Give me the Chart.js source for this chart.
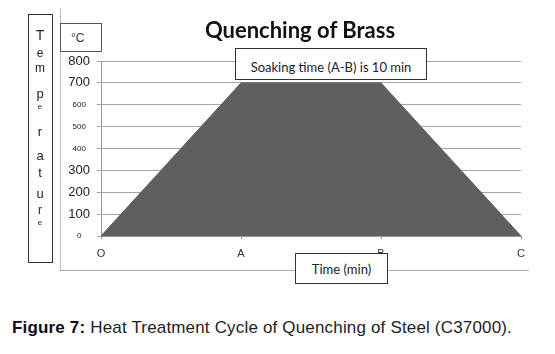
<!DOCTYPE html>
<html>
<head>
<meta charset="utf-8">
<script src="https://cdn.jsdelivr.net/npm/chart.js@4.4.0/dist/chart.umd.min.js"></script>
<style>
  body { margin: 0; background: #fff; width: 555px; height: 354px; position: relative; overflow: hidden; font-family: "Liberation Sans", Arial, sans-serif; }
  #wrap { position: absolute; left: 0; top: 0; width: 555px; height: 290px; }
  .box { position: absolute; background: #fff; border: 1px solid #333; box-sizing: border-box; }
  .lbl { position: absolute; white-space: nowrap; }
  .frameL { position: absolute; left: 60px; top: 8px; width: 1px; height: 262px; background: #bbb; }
  .frameB { position: absolute; left: 60px; top: 270px; width: 469px; height: 1px; background: #aaa; }
  .letter { position: absolute; left: 28px; width: 24px; text-align: center; color: #222; line-height: 1; transform: translateY(-50%); }
</style>
</head>
<body>
<div class="frameL"></div>
<div class="frameB"></div>
<div id="wrap"><canvas id="quench" width="555" height="290"></canvas></div>

<div class="lbl" style="left:0;width:600px;top:16px;text-align:center;font-family:Lato,sans-serif;font-weight:bold;font-size:22px;color:#111;">Quenching of Brass</div>

<div class="box" style="left:235px;top:48px;width:192px;height:32px;"></div>
<div class="lbl" style="left:235px;width:192px;top:59px;text-align:center;font-family:Lato,sans-serif;font-size:13px;color:#222;">Soaking time (A-B) is 10 min</div>

<div class="box" style="left:295px;top:253px;width:93px;height:31px;"></div>
<div class="lbl" style="left:295px;width:93px;top:261px;text-align:center;font-family:Lato,sans-serif;font-size:13px;color:#222;">Time (min)</div>

<div class="box" style="left:60px;top:23px;width:42px;height:29px;border-color:#555;"></div>
<div class="lbl" style="left:71px;top:31px;font-size:12px;color:#333;">°C</div>

<div class="box" style="left:28px;top:14px;width:25px;height:249px;"></div>
<div id="ylab"></div>

<div class="lbl" style="left:12px;top:318px;font-size:17px;letter-spacing:0.17px;color:#222;"><b style="color:#0d0d1a;">Figure 7:</b> Heat Treatment Cycle of Quenching of Steel (C37000).</div>

<script>
const times = ['O', 'A', 'B', 'C'];
const temps = [0, 700, 700, 0];
const tempMin = 0;
const tempMax = 800;
const tempStep = 100;
const bigTicks = [100, 200, 300, 700, 800];

// vertical "Temperature" label, one letter per line like the original
const letters = [['T', 35, 14], ['e', 53, 12], ['m', 68, 12], ['p', 93, 13], ['e', 107, 8], ['r', 131, 13],
  ['a', 155, 13], ['t', 172, 13], ['u', 193, 13], ['r', 210, 12], ['e', 223, 8]];
const ylab = document.getElementById('ylab');
letters.forEach(function (l) {
  const s = document.createElement('div');
  s.className = 'letter';
  s.textContent = l[0];
  s.style.top = l[1] + 'px';
  s.style.fontSize = l[2] + 'px';
  ylab.appendChild(s);
});

const ctx = document.getElementById('quench').getContext('2d');

new Chart(ctx, {
  type: 'line',
  data: {
    labels: times,
    datasets: [{
      data: temps,
      fill: 'origin',
      backgroundColor: '#5f5f5f',
      borderColor: '#5f5f5f',
      borderWidth: 1,
      pointRadius: 0,
      tension: 0
    }]
  },
  options: {
    responsive: false,
    animation: false,
    layout: { padding: { left: 60, top: 61, right: 34, bottom: 30 } },
    plugins: {
      legend: { display: false },
      tooltip: { enabled: false }
    },
    scales: {
      x: {
        offset: false,
        afterFit: function (scale) { scale.height = 24; },
        grid: { drawOnChartArea: false, tickLength: 3, color: '#999' },
        border: { color: '#999' },
        ticks: {
          padding: 8,
          color: '#333',
          font: { family: 'Liberation Sans', size: 11 },
          maxRotation: 0
        }
      },
      y: {
        min: tempMin,
        max: tempMax,
        afterFit: function (scale) { scale.width = 41; },
        grid: { color: '#a6a6a6', tickLength: 4 },
        border: { color: '#999' },
        ticks: {
          stepSize: tempStep,
          padding: 7,
          crossAlign: 'center',
          color: '#222',
          font: function (c) {
            const big = c.tick && bigTicks.includes(c.tick.value);
            return { family: 'Liberation Sans', size: big ? 13 : 8 };
          }
        }
      }
    }
  }
});
</script>
</body>
</html>
